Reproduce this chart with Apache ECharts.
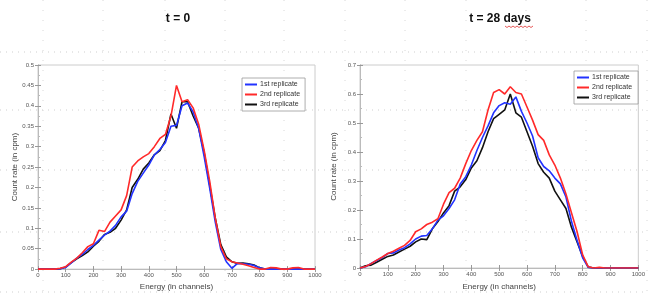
<!DOCTYPE html>
<html>
<head>
<meta charset="utf-8">
<script src="https://cdn.jsdelivr.net/npm/echarts@6/dist/echarts.min.js"></script>
<style>html,body{margin:0;padding:0;background:#fff;}#c{width:648px;height:296px;}</style>
</head>
<body>
<div id="c"></div>
<script>
// ---- data ----
const energy = [0,20,40,60,80,100,120,140,160,180,200,220,240,260,280,300,320,340,360,380,400,420,440,460,480,500,520,540,560,580,600,620,640,660,680,700,720,740,760,780,800,820,840,860,880,900,920,940,960,980,1000];
const xTicks = [0,100,200,300,400,500,600,700,800,900,1000];
const seriesNames = ['1st replicate','2nd replicate','3rd replicate'];
const titles = ['t = 0','t = 28 days'];

// t = 0
const t0_rep1 = [0,0,0,0,0.001,0.004,0.015,0.027,0.036,0.048,0.058,0.071,0.083,0.093,0.107,0.128,0.142,0.185,0.215,0.235,0.255,0.28,0.293,0.31,0.35,0.352,0.4,0.407,0.385,0.345,0.275,0.198,0.115,0.048,0.018,0.002,0.014,0.013,0.012,0.009,0.003,0,0,0,0,0,0,0,0,0,0];
const t0_rep2 = [0,0,0,0,0.002,0.006,0.017,0.027,0.04,0.055,0.062,0.095,0.092,0.115,0.13,0.145,0.18,0.25,0.265,0.275,0.283,0.3,0.32,0.33,0.375,0.45,0.41,0.415,0.395,0.355,0.29,0.215,0.125,0.055,0.025,0.018,0.015,0.012,0.008,0.004,0,0,0.004,0.003,0,0,0.003,0.004,0,0,0];
const t0_rep3 = [0,0,0,0,0.001,0.005,0.016,0.025,0.033,0.042,0.056,0.068,0.085,0.09,0.1,0.12,0.145,0.2,0.22,0.245,0.26,0.28,0.29,0.315,0.38,0.345,0.41,0.41,0.375,0.345,0.285,0.205,0.125,0.06,0.03,0.018,0.014,0.015,0.013,0.01,0.003,0,0,0,0,0,0,0,0,0,0];

// t = 28 days
const t28_rep1 = [0,0.004,0.016,0.026,0.036,0.05,0.052,0.062,0.07,0.083,0.1,0.11,0.112,0.135,0.165,0.18,0.205,0.235,0.29,0.315,0.355,0.405,0.45,0.49,0.535,0.56,0.57,0.565,0.59,0.54,0.5,0.455,0.38,0.35,0.335,0.31,0.29,0.245,0.16,0.095,0.035,0.002,0,0,0,0,0,0,0,0,0];
const t28_rep2 = [0,0.005,0.015,0.027,0.038,0.05,0.058,0.068,0.078,0.095,0.125,0.135,0.15,0.158,0.17,0.22,0.26,0.275,0.31,0.36,0.405,0.44,0.47,0.545,0.605,0.615,0.6,0.625,0.605,0.6,0.555,0.51,0.46,0.44,0.39,0.355,0.31,0.255,0.19,0.125,0.045,0.004,0,0.002,0,0,0,0,0,0,0];
const t28_rep3 = [0,0.008,0.01,0.02,0.03,0.04,0.045,0.055,0.065,0.075,0.09,0.1,0.098,0.135,0.16,0.19,0.215,0.265,0.28,0.305,0.345,0.37,0.415,0.47,0.515,0.53,0.545,0.6,0.535,0.52,0.47,0.42,0.36,0.33,0.31,0.265,0.235,0.205,0.14,0.09,0.04,0.003,0,0,0,0,0,0,0,0,0];

const colors = ['#2233ff','#ff2a2a','#111111'];
const pair = arr => energy.map((e,i)=>[e,arr[i]]);

const FONT = '"Liberation Sans", Arial, sans-serif';
const tickLbl = {fontSize:6, color:'#555', fontFamily:FONT, margin:4, formatter: v => String(v)};

function xAx(gi){
  return [{
    type:'value', gridIndex:gi, min:0, max:1000, interval:100,
    name:'Energy (in channels)', nameLocation:'middle', nameGap:gi===0?13:15,
    nameTextStyle:{fontSize:8, color:'#444', fontFamily:FONT},
    axisLine:{lineStyle:{color:'#bbb', width:1}},
    axisTick:{inside:true, length:3, lineStyle:{color:'#999'}},
    minorTick:{show:false},
    axisLabel:Object.assign({}, tickLbl, {margin:3}),
    splitLine:{show:false}
  },{
    type:'value', gridIndex:gi, position:'top', min:0, max:1000, interval:100,
    axisLine:{lineStyle:{color:'#bbb', width:1}},
    axisTick:{inside:true, length:3, lineStyle:{color:'#999'}},
    axisLabel:{show:false}, splitLine:{show:false}
  }];
}
function yAx(gi, max, interval){
  return [{
    type:'value', gridIndex:gi, min:0, max:max, interval:interval,
    name:'Count rate (in cpm)', nameLocation:'middle', nameGap:gi===0?19:22,
    nameTextStyle:{fontSize:8, color:'#444', fontFamily:FONT},
    axisLine:{show:true, lineStyle:{color:'#bbb', width:1}},
    axisTick:{inside:true, length:3, lineStyle:{color:'#999'}},
    minorTick:{show:true, splitNumber:2, length:2, lineStyle:{color:'#bbb'}},
    axisLabel:tickLbl, splitLine:{show:false}
  },{
    type:'value', gridIndex:gi, position:'right', min:0, max:max, interval:interval,
    axisLine:{show:true, lineStyle:{color:'#bbb', width:1}},
    axisTick:{inside:true, length:3, lineStyle:{color:'#999'}},
    axisLabel:{show:false}, splitLine:{show:false}
  }];
}

const series = [];
[[t0_rep1,t0_rep2,t0_rep3],[t28_rep1,t28_rep2,t28_rep3]].forEach((set,gi)=>{
  set.forEach((arr,k)=>{
    series.push({
      type:'line', name:seriesNames[k], xAxisIndex:gi*2, yAxisIndex:gi*2,
      data:pair(arr), showSymbol:false, symbol:'none',
      lineStyle:{color:colors[k], width:1.6}, itemStyle:{color:colors[k]},
      z: 3 + (k===2?0:k===0?1:2), animation:false
    });
  });
});

// faint dotted overlay grid of the source slide
const overlay = [];
[52,110,170,232,292].forEach(y=>overlay.push({type:'line', z:-1, shape:{x1:0,y1:y,x2:648,y2:y}, style:{stroke:'#cfcfcf', lineWidth:1, lineDash:[1,5]}, silent:true}));
[43,103,165,225,284,345,405,466,526,586,647].forEach(x=>overlay.push({type:'line', z:-1, shape:{x1:x,y1:0,x2:x,y2:296}, style:{stroke:'#d8d8d8', lineWidth:1, lineDash:[1,9]}, silent:true}));
// spell-check squiggle under "days"
const sq = []; for(let i=0;i<=14;i++){ sq.push([505+i*2, 26 + (i%2?1.5:0)]); }
overlay.push({type:'polyline', z:10, shape:{points:sq}, style:{stroke:'#e03030', lineWidth:0.8, fill:null}, silent:true});

const chart = echarts.init(document.getElementById('c'), null, {renderer:'canvas'});
chart.setOption({
  animation:false,
  backgroundColor:'#fff',
  title:[
    {text:titles[0], left:173, top:8, textAlign:'center', textStyle:{fontSize:12, fontWeight:'bold', color:'#111', fontFamily:FONT}},
    {text:titles[1], left:495, top:8, textAlign:'center', textStyle:{fontSize:12, fontWeight:'bold', color:'#111', fontFamily:FONT}}
  ],
  grid:[
    {left:38, right:333, top:65, bottom:24, show:true, borderColor:'#ccc', borderWidth:1, backgroundColor:'transparent'},
    {left:360, right:6, top:65, bottom:22, show:true, borderColor:'#ccc', borderWidth:1, backgroundColor:'transparent'}
  ],
  legend:[
    {data:seriesNames, orient:'vertical', left:242, top:78, itemGap:3, itemWidth:12, itemHeight:2, icon:'rect',
     padding:[3,5,3,3], borderColor:'#999', borderWidth:0.8, backgroundColor:'#fff',
     textStyle:{fontSize:7, color:'#333', fontFamily:FONT, padding:[0,0,0,-2]}},
    {data:seriesNames, orient:'vertical', left:574, top:71, itemGap:3, itemWidth:12, itemHeight:2, icon:'rect',
     padding:[3,6,3,3], borderColor:'#999', borderWidth:0.8, backgroundColor:'#fff',
     textStyle:{fontSize:7, color:'#333', fontFamily:FONT, padding:[0,0,0,-2]}}
  ],
  xAxis:[...xAx(0), ...xAx(1)],
  yAxis:[...yAx(0,0.5,0.05), ...yAx(1,0.7,0.1)],
  series:series,
  graphic:overlay
});
</script>
</body>
</html>
